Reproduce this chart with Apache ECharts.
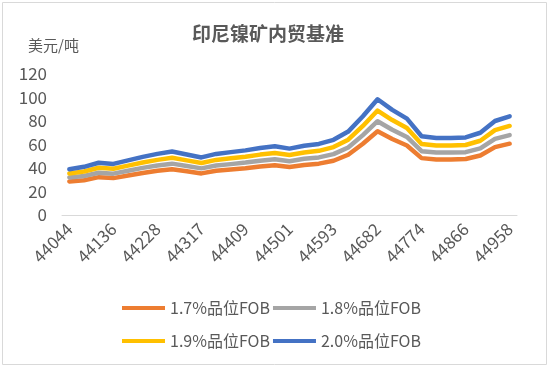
<!DOCTYPE html>
<html><head><meta charset="utf-8">
<script src="https://cdn.jsdelivr.net/npm/echarts@6/dist/echarts.min.js"></script>
<style>html,body{margin:0;padding:0;background:#fff}#c{width:550px;height:368px}</style>
</head><body><div id="c"></div>
<script>
var categories = ['44044','44075','44105','44136','44166','44197','44228','44256','44287','44317','44348','44378','44409','44440','44470','44501','44531','44562','44593','44621','44652','44682','44713','44743','44774','44805','44835','44866','44896','44927','44958'];
var seriesNames = ['1.7%品位FOB','1.8%品位FOB','1.9%品位FOB','2.0%品位FOB'];
var s17 = [28.6,29.6,32.2,31.4,33.6,35.8,37.6,39.0,37.2,35.4,37.6,38.7,39.7,41.2,42.3,40.8,42.6,43.7,46.2,51.3,60.7,71.2,64.7,59.2,48.4,47.3,47.3,47.7,50.6,57.8,60.7];
var s18 = [32.0,33.2,36.0,35.2,37.7,40.1,42.1,43.7,41.7,39.7,42.1,43.3,44.6,46.2,47.4,45.8,47.8,49.0,51.8,57.5,68.0,79.8,72.5,66.4,54.3,53.1,53.1,53.5,56.7,64.8,68.0];
var s19 = [35.4,37.0,40.2,39.3,42.0,44.7,46.9,48.7,46.5,44.2,46.9,48.3,49.6,51.4,52.8,51.0,53.2,54.6,57.8,64.1,75.8,88.9,80.8,74.0,60.5,59.1,59.1,59.6,63.2,72.2,75.8];
var s20 = [39.0,41.0,44.5,43.5,46.5,49.5,52.0,54.0,51.5,49.0,52.0,53.5,55.0,57.0,58.5,56.5,59.0,60.5,64.0,71.0,84.0,98.5,89.5,82.0,67.0,65.5,65.5,66.0,70.0,80.0,84.0];
var yTicks = [0,20,40,60,80,100,120];

var colors = ['#ED7D31','#A5A5A5','#FFC000','#4472C4'];
var values = [s17,s18,s19,s20];
var font = '"Noto Sans CJK SC", "Noto Sans", sans-serif';
var txt = '#595959';
var chart = echarts.init(document.getElementById('c'));
var legendCommon = {
  icon: 'rect', itemWidth: 43, itemHeight: 4, itemGap: 3,
  textStyle: {color: txt, fontSize: 16, fontFamily: font}
};
chart.setOption({
  animation: false,
  color: colors,
  graphic: [{type:'rect', shape:{x:2.5,y:2.5,width:544,height:362}, style:{fill:'none',stroke:'#d9d9d9',lineWidth:1}}],
  title: {text: '印尼镍矿内贸基准', left: 263, top: 19, textAlign: 'center',
    textStyle: {color: txt, fontSize: 19, fontWeight: 'bold', fontFamily: font}},
  legend: [
    Object.assign({data: [seriesNames[0], seriesNames[1]], left: 117, top: 295}, legendCommon),
    Object.assign({data: [seriesNames[2], seriesNames[3]], left: 117, top: 328}, legendCommon)
  ],
  grid: {left: 62, right: 33, top: 74, bottom: 153},
  xAxis: {
    type: 'category', data: categories, boundaryGap: true,
    axisLine: {lineStyle: {color: '#d9d9d9', width: 1}},
    axisTick: {show: false},
    axisLabel: {interval: 2, rotate: 45, color: txt, fontSize: 17, fontFamily: font, margin: 11}
  },
  yAxis: {
    type: 'value', min: yTicks[0], max: yTicks[yTicks.length-1], interval: 20,
    name: '美元/吨', nameLocation: 'end', nameGap: 21,
    nameTextStyle: {color: txt, fontSize: 15, fontFamily: font, align: 'left', padding: [0,0,0,-34]},
    axisLine: {show: false}, axisTick: {show: false}, splitLine: {show: false},
    axisLabel: {color: txt, fontSize: 17, fontFamily: font, margin: 15}
  },
  series: values.map(function(v, i){
    return {name: seriesNames[i], type: 'line', data: v, symbol: 'none',
      lineStyle: {width: 4.5, color: colors[i], cap: 'round', join: 'round'}, z: 2 + i};
  })
});
</script></body></html>
